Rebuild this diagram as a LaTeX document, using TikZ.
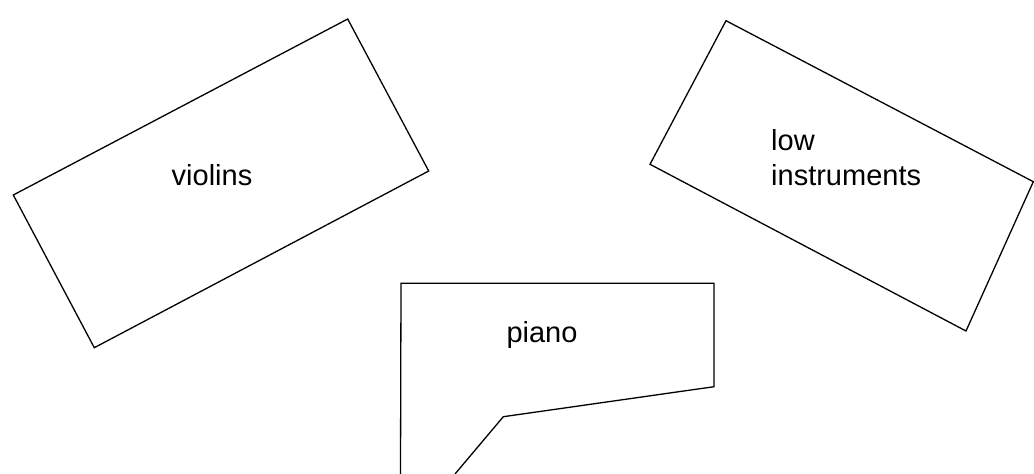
\documentclass[tikz,border=0pt]{standalone}
\usepackage{fontspec}
\setmainfont{Liberation Sans}
\begin{document}
\begin{tikzpicture}[x=1pt,y=-1pt,
  outline/.style={draw=black,line width=1.3pt,line join=miter},
  lbl/.style={font=\fontsize{29}{35}\selectfont,inner sep=0pt,align=left}]
\useasboundingbox (0,0) rectangle (1034,474);
% violins
\draw[outline] (347.7,19) -- (428.7,171) -- (94.3,347.7) -- (13.3,195) -- cycle;
\node[lbl] (violins) at (212,175) {violins};
% low instruments
\draw[outline] (726,20.7) -- (1033.3,181.7) -- (966,331) -- (650,164.3) -- cycle;
\node[lbl,anchor=west] (low) at (771,157.5) {low\\instruments};
% piano
\draw[outline] (400.5,474) -- (401,283.3) -- (714,283.3) -- (714,386.7) -- (503.3,416.7) -- (455,474);
\node[lbl] (piano) at (542,335) {piano};
\end{tikzpicture}
\end{document}
